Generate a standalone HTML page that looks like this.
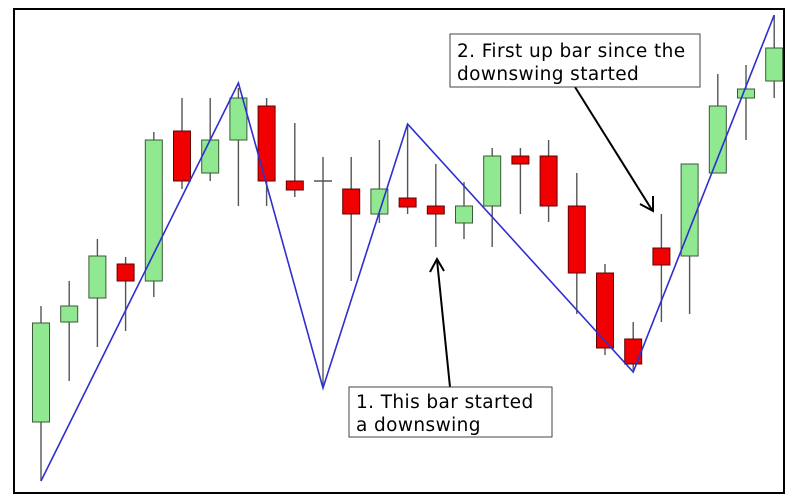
<!DOCTYPE html>
<html><head><meta charset="utf-8"><style>
html,body{margin:0;padding:0;background:#fff;width:808px;height:501px;overflow:hidden}
svg{display:block}
text{font-family:"DejaVu Sans","Liberation Sans",sans-serif;font-size:18.5px;letter-spacing:0.4px;fill:#000}
</style></head><body>
<svg id="chart" width="808" height="501">
<rect x="14" y="9" width="770" height="484" fill="#fff" stroke="#000" stroke-width="2"/>
<g id="candles"></g>
<polyline id="zigzag" fill="none" stroke="#2f2fd0" stroke-width="1.6"/>
<g>
<line x1="450" y1="387" x2="437" y2="260" stroke="#000" stroke-width="2"/>
<polyline points="430,272 437,259 444,271" fill="none" stroke="#000" stroke-width="2"/>
<rect x="349" y="387" width="203" height="50" fill="#fff" stroke="#444"/>
<text x="356" y="408">1. This bar started</text>
<text x="356" y="431">a downswing</text>
</g>
<g>
<line x1="575" y1="87" x2="652" y2="210" stroke="#000" stroke-width="2"/>
<polyline points="640,204 653,211 653,196" fill="none" stroke="#000" stroke-width="2"/>
<rect x="450" y="34" width="250" height="53" fill="#fff" stroke="#444"/>
<text x="457" y="57">2. First up bar since the</text>
<text x="457" y="80">downswing started</text>
</g>
</svg>
<script>
const opens  = [78,178,202,236,219,369,327,360,394,319,319,311,286,302,294,277,294,344,344,294,227,161,252,244,327,402,419];
const closes = [177,194,244,219,360,319,360,402,319,310,319,286,311,293,286,294,344,336,294,227,152,136,235,336,394,411,452];
const highs  = [194,219,261,243,368,402,402,412,402,377,343,343,360,376,336,318,352,352,360,327,236,178,286,336,426,435,485];
const lows   = [19,119,153,169,203,311,319,294,294,303,113,219,277,286,253,261,253,286,278,186,145,130,178,186,327,360,402];
const swingIdx = [0,7,10,13,21,26];
const swingPrice = [19,417,112,376,128,485];
const NS='http://www.w3.org/2000/svg';
function xScale(i){return 41+i*28.2;}
function yScale(p){return 500-p;}
const g=document.getElementById('candles');
for(let i=0;i<opens.length;i++){
  const x=xScale(i),o=opens[i],c=closes[i];
  const w=document.createElementNS(NS,'line');
  w.setAttribute('x1',x);w.setAttribute('x2',x);
  w.setAttribute('y1',yScale(highs[i]));w.setAttribute('y2',yScale(lows[i]));
  w.setAttribute('stroke','#555');w.setAttribute('stroke-width','1.4');
  
  
  g.appendChild(w);
  if(o===c){
    const d=document.createElementNS(NS,'line');
    d.setAttribute('x1',x-9);d.setAttribute('x2',x+9);
    d.setAttribute('y1',yScale(o));d.setAttribute('y2',yScale(o));
    d.setAttribute('stroke','#555');d.setAttribute('stroke-width','1.4');
    
    
    g.appendChild(d);continue;
  }
  const up=c>o;
  const r=document.createElementNS(NS,'rect');
  const top=yScale(Math.max(o,c)),bot=yScale(Math.min(o,c));
  r.setAttribute('x',x-8.5);r.setAttribute('width',17);
  r.setAttribute('y',top);r.setAttribute('height',Math.max(1,bot-top));
  r.setAttribute('fill',up?'#90e890':'#f00000');
  r.setAttribute('stroke',up?'#3a5a3a':'#600');r.setAttribute('stroke-width','1');
  
  
  g.appendChild(r);
}
document.getElementById('zigzag').setAttribute('points',swingIdx.map((k,j)=>xScale(k)+','+yScale(swingPrice[j])).join(' '));
</script>
</body></html>
